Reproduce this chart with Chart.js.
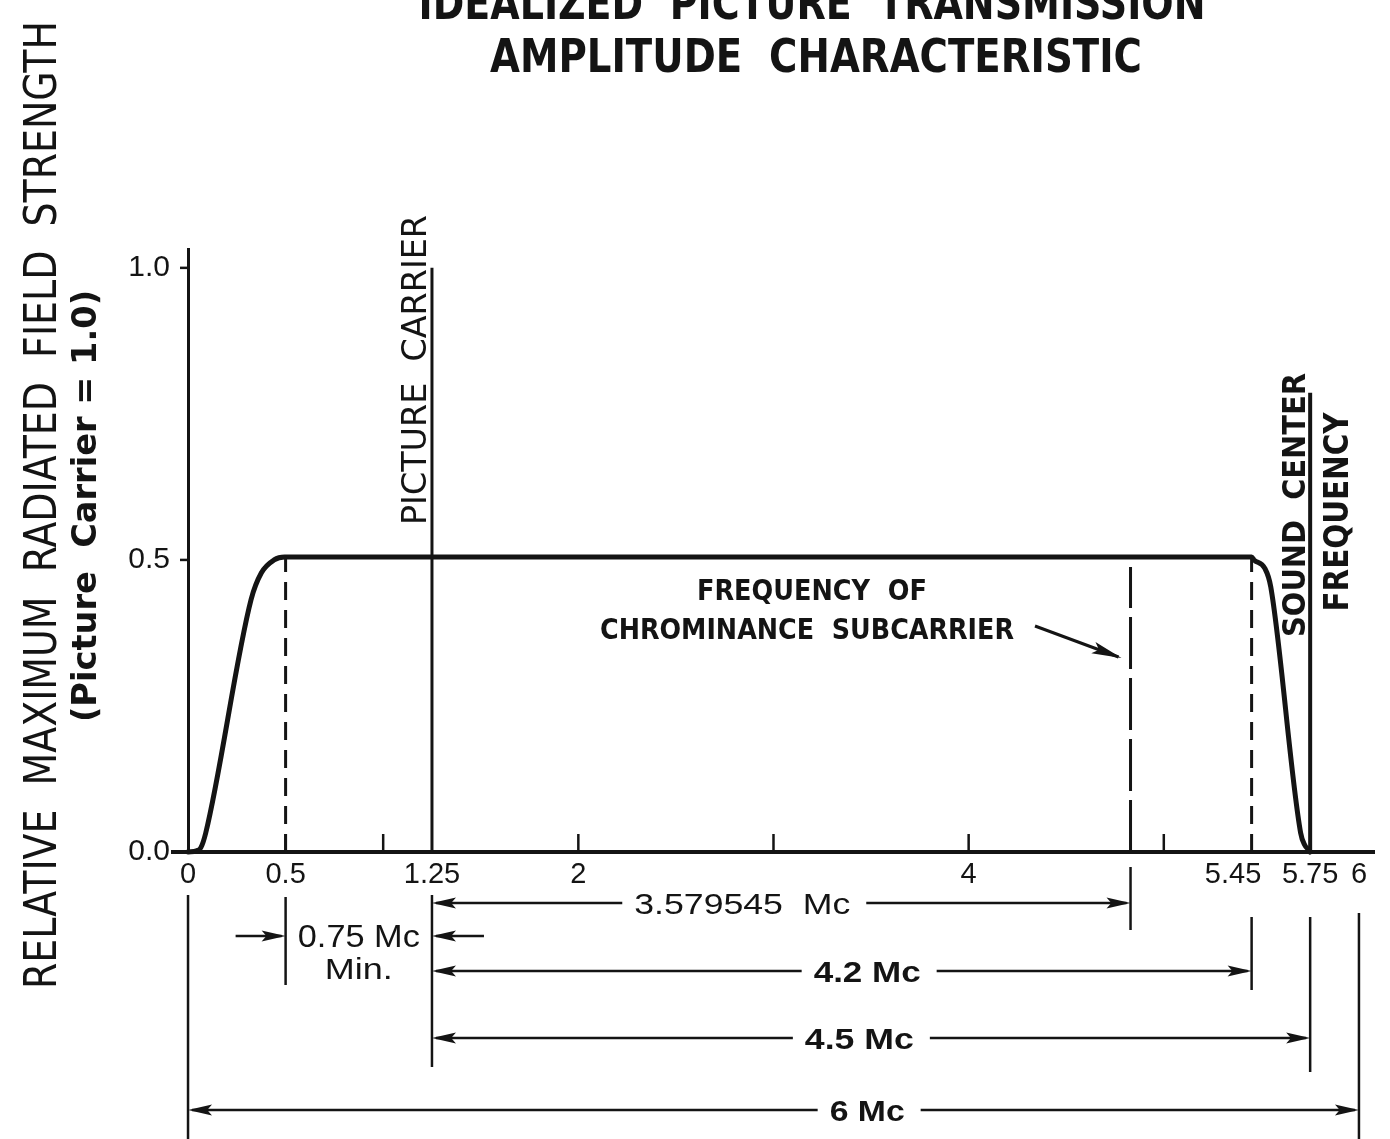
<!DOCTYPE html>
<html>
<head>
<meta charset="utf-8">
<title>Idealized Picture Transmission Amplitude Characteristic</title>
<script src="https://cdn.jsdelivr.net/npm/chart.js@4.4.1/dist/chart.umd.min.js"></script>
<style>
  html, body { margin: 0; padding: 0; background: #ffffff; }
  #wrap { position: relative; width: 1390px; height: 1139px; overflow: hidden; background: #ffffff; }
  canvas { display: block; }
</style>
</head>
<body>
<div id="wrap"><canvas id="chart" width="1390" height="1139"></canvas></div>
<script>
// ---- Axis ticks -----------------------------------------------------------
const xTickValues = [0, 0.5, 1, 1.25, 2, 3, 4, 5, 5.45, 5.75, 6];
const xTickLabels = ['0', '0.5', '', '1.25', '2', '', '4', '', '5.45', '5.75', '6'];
const yTickValues = [0, 0.5, 1.0];
const yTickLabels = ['0.0', '0.5', '1.0'];

// ---- Idealized amplitude response (Mc above lower channel edge) ----------
const responseMc    = [0, 0.043, 0.065, 0.091, 0.323, 0.376, 0.441, 0.495,
                       5.45, 5.462, 5.517, 5.548, 5.701, 5.722, 5.744, 5.75];
const responseLevel = [0, 0.002, 0.007, 0.033, 0.432, 0.478, 0.500, 0.505,
                       0.505, 0.500, 0.486, 0.454, 0.033, 0.012, 0.003, 0];

// ---- Carriers and band edges ---------------------------------------------
const pictureCarrierMc = 1.25;
const pictureCarrierLevel = 1.0;
const chromaOffsetMc = 3.579545;            // above the picture carrier
const chromaMc = pictureCarrierMc + chromaOffsetMc;
const chromaMarkerLevel = 0.488;
const soundCenterMc = 5.75;
const soundMarkerLevel = 0.786;
const lowerEdgeMc = 0.5;
const upperEdgeMc = 5.45;
const edgeMarkerLevel = 0.505;
const channelWidthMc = 6;

// ---- Bandwidth dimensions ------------------------------------------------
const spanFrom   = [pictureCarrierMc, lowerEdgeMc, pictureCarrierMc, pictureCarrierMc, 0];
const spanTo     = [chromaMc, pictureCarrierMc, upperEdgeMc, soundCenterMc, channelWidthMc];
const spanLabels = ['3.579545  Mc', '0.75 Mc', '4.2 Mc', '4.5 Mc', '6 Mc'];

const INK = '#141414';
const pts = (xs, ys) => xs.map((x, i) => ({ x: x, y: ys[i] }));

// ---- Drawing helpers -----------------------------------------------------
function fitText(ctx, str, cx, cy, o) {
  ctx.save();
  ctx.font = (o.weight || 'normal') + ' ' + o.size + 'px ' + (o.family || '"DejaVu Sans"');
  const w = ctx.measureText(str).width;
  ctx.translate(cx, cy);
  if (o.rot) ctx.rotate(o.rot);
  ctx.scale(o.width ? o.width / w : 1, 1);
  ctx.textAlign = 'center';
  ctx.textBaseline = 'alphabetic';
  ctx.fillStyle = INK;
  ctx.fillText(str, 0, 0);
  ctx.restore();
}

function line(ctx, x1, y1, x2, y2, w) {
  ctx.save();
  ctx.strokeStyle = INK;
  ctx.lineWidth = w || 2.5;
  ctx.lineCap = 'butt';
  ctx.beginPath();
  ctx.moveTo(x1, y1);
  ctx.lineTo(x2, y2);
  ctx.stroke();
  ctx.restore();
}

function arrowHead(ctx, tipX, tipY, fromX, fromY, len, half) {
  const a = Math.atan2(tipY - fromY, tipX - fromX);
  ctx.save();
  ctx.translate(tipX, tipY);
  ctx.rotate(a);
  ctx.fillStyle = INK;
  ctx.beginPath();
  ctx.moveTo(0, 0);
  ctx.lineTo(-len, -half);
  ctx.lineTo(-len * 0.8, 0);
  ctx.lineTo(-len, half);
  ctx.closePath();
  ctx.fill();
  ctx.restore();
}

// ---- Annotation layer ----------------------------------------------------
const annotations = {
  id: 'annotations',
  afterDatasetsDraw(chart) {
    const ctx = chart.ctx;
    const xs = chart.scales.x, ys = chart.scales.y;
    const X = v => xs.getPixelForValue(v);
    const Y = v => ys.getPixelForValue(v);
    const base = Y(0);

    // inward tick marks on the frequency axis
    [0.5, 1, 2, 3, 4, 5].forEach(v => line(ctx, X(v), base, X(v), base - 18, 2.5));
    // tick marks on the level axis
    [0.5, 1.0].forEach(v => line(ctx, X(0) - 8, Y(v), X(0), Y(v), 2.5));

    // title
    fitText(ctx, 'IDEALIZED  PICTURE  TRANSMISSION', 812, 19, { size: 46, weight: 'bold', width: 787 });
    fitText(ctx, 'AMPLITUDE  CHARACTERISTIC', 816, 72, { size: 46, weight: 'bold', width: 652 });

    // level axis title
    fitText(ctx, 'RELATIVE  MAXIMUM  RADIATED  FIELD  STRENGTH', 56, 505,
            { size: 44, width: 968, rot: -Math.PI / 2 });
    fitText(ctx, '(Picture  Carrier = 1.0)', 96, 506,
            { size: 34, weight: 'bold', width: 432, rot: -Math.PI / 2 });

    // carrier labels
    fitText(ctx, 'PICTURE  CARRIER', X(pictureCarrierMc) - 6, 370,
            { size: 34, width: 310, rot: -Math.PI / 2 });
    fitText(ctx, 'SOUND  CENTER', X(soundCenterMc) - 5, 505,
            { size: 32, weight: 'bold', width: 264, rot: -Math.PI / 2 });
    fitText(ctx, 'FREQUENCY', X(soundCenterMc) + 38, 512,
            { size: 33, weight: 'bold', width: 199, rot: -Math.PI / 2 });

    // chrominance subcarrier callout
    fitText(ctx, 'FREQUENCY  OF', 812, 600, { size: 29, weight: 'bold', width: 230 });
    fitText(ctx, 'CHROMINANCE  SUBCARRIER', 807, 639, { size: 29, weight: 'bold', width: 414 });
    line(ctx, 1035, 626, X(chromaMc) - 12, 657, 3);
    arrowHead(ctx, X(chromaMc) - 9, 658, 1035, 626, 30, 6);

    // extension lines below the axis
    const ext = [
      [0, 895, 1139], [lowerEdgeMc, 897, 985], [pictureCarrierMc, 895, 1067],
      [chromaMc, 867, 930], [upperEdgeMc, 917, 990], [soundCenterMc, 917, 1072],
      [channelWidthMc, 913, 1139]
    ];
    ext.forEach(e => line(ctx, X(e[0]), e[1], X(e[0]), e[2], 2.5));

    // dimension rows
    const rowY = [903, 936, 971, 1038, 1110];
    const labelAt = [2.84, 0.875, 3.48, 3.44, 3.48];
    const labelW = [216, 122, 107, 109, 75];
    const labelSize = [30, 32, 30, 30, 30];
    const labelWeight = ['normal', 'normal', 'bold', 'bold', 'bold'];
    spanLabels.forEach((txt, i) => {
      const y = rowY[i];
      const a = X(spanFrom[i]), b = X(spanTo[i]);
      const c = X(labelAt[i]);
      fitText(ctx, txt, c, y + 11, { size: labelSize[i], weight: labelWeight[i], width: labelW[i],
                                      family: '"Liberation Sans"' });
      if (i === 1) {
        // narrow span: arrows come in from outside
        line(ctx, a - 50, y, a - 4, y, 2.5);
        arrowHead(ctx, a, y, a - 50, y, 24, 5.5);
        line(ctx, b + 52, y, b + 4, y, 2.5);
        arrowHead(ctx, b, y, b + 52, y, 24, 5.5);
        fitText(ctx, 'Min.', c, 979, { size: 30, width: 68, family: '"Liberation Sans"' });
      } else {
        const l = c - labelW[i] / 2 - 12, r = c + labelW[i] / 2 + 16;
        line(ctx, a + 4, y, l, y, 2.5);
        line(ctx, r, y, b - 4, y, 2.5);
        arrowHead(ctx, a, y, b, y, 24, 5.5);
        arrowHead(ctx, b, y, a, y, 24, 5.5);
      }
    });
  }
};

// ---- Chart ---------------------------------------------------------------
const markerStyle = { borderColor: INK, pointRadius: 0, fill: false, tension: 0 };

new Chart(document.getElementById('chart'), {
  type: 'line',
  data: {
    datasets: [
      Object.assign({}, markerStyle, {
        label: 'Amplitude characteristic',
        data: pts(responseMc, responseLevel),
        borderWidth: 5,
        cubicInterpolationMode: 'monotone',
        borderJoinStyle: 'round',
        borderCapStyle: 'round'
      }),
      Object.assign({}, markerStyle, {
        label: 'Picture carrier',
        data: pts([pictureCarrierMc, pictureCarrierMc], [0, pictureCarrierLevel]),
        borderWidth: 3
      }),
      Object.assign({}, markerStyle, {
        label: 'Sound center frequency',
        data: pts([soundCenterMc, soundCenterMc], [0, soundMarkerLevel]),
        borderWidth: 4
      }),
      Object.assign({}, markerStyle, {
        label: 'Chrominance subcarrier',
        data: pts([chromaMc, chromaMc], [0, chromaMarkerLevel]),
        borderWidth: 3,
        borderDash: [52, 9]
      }),
      Object.assign({}, markerStyle, {
        label: 'Lower band edge',
        data: pts([lowerEdgeMc, lowerEdgeMc], [0, edgeMarkerLevel]),
        borderWidth: 3,
        borderDash: [18, 10]
      }),
      Object.assign({}, markerStyle, {
        label: 'Upper band edge',
        data: pts([upperEdgeMc, upperEdgeMc], [0, edgeMarkerLevel]),
        borderWidth: 3,
        borderDash: [18, 10]
      })
    ]
  },
  options: {
    responsive: false,
    animation: false,
    devicePixelRatio: 1,
    clip: false,
    layout: { padding: { top: 248, right: 17, left: 0, bottom: 0 } },
    plugins: {
      legend: { display: false },
      tooltip: { enabled: false },
      title: { display: false }
    },
    scales: {
      x: {
        type: 'linear',
        min: -0.077,
        max: 6.072,
        afterBuildTicks: s => { s.ticks = xTickValues.map(v => ({ value: v })); },
        afterFit: s => { s.height = 287; },
        ticks: {
          autoSkip: false,
          maxRotation: 0,
          padding: 6,
          color: INK,
          font: { size: 29, family: '"Liberation Sans"' },
          // keep the crowded upper-edge label clear of its neighbour
          callback: (v, i) => xTickValues[i] === upperEdgeMc ? xTickLabels[i] + '\u2003 ' : xTickLabels[i]
        },
        grid: {
          drawTicks: false,
          lineWidth: 3,
          color: c => (c.tick && c.tick.value === 0) ? INK : 'rgba(0,0,0,0)'
        },
        border: { display: true, color: INK, width: 4 }
      },
      y: {
        type: 'linear',
        min: 0,
        max: 1.034,
        afterBuildTicks: s => { s.ticks = yTickValues.map(v => ({ value: v })); },
        afterFit: s => { s.width = 173; },
        ticks: {
          padding: 3,
          color: INK,
          font: { size: 30, family: '"Liberation Sans"' },
          callback: (v, i) => yTickLabels[i]
        },
        grid: { display: false, drawTicks: false },
        border: { display: false }
      }
    }
  },
  plugins: [annotations]
});
</script>
</body>
</html>
